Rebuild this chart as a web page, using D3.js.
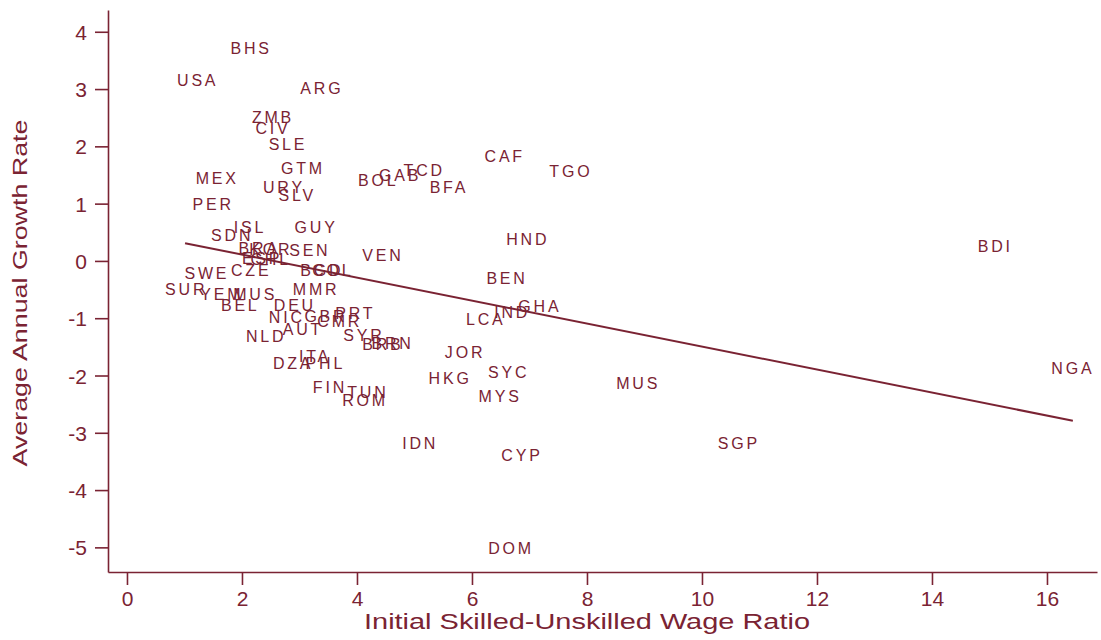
<!DOCTYPE html>
<html>
<head>
<meta charset="utf-8">
<script src="https://cdn.jsdelivr.net/npm/d3@7/dist/d3.min.js"></script>
<style>
  html, body { margin: 0; padding: 0; background: #fff; }
  svg { display: block; }
  text { font-family: "Liberation Sans", Arial, sans-serif; fill: #7a2333; }
</style>
</head>
<body>
<svg id="chart" width="1101" height="640"></svg>
<script>
// ---- data ----
const codes = ["BHS","USA","ARG","ZMB","CIV","SLE","CAF","TGO","TCD","GTM","MEX","GAB","BOL","BFA","URY","SLV","PER","ISL","GUY","SDN","HND","BDI","VEN","BRA","KOR","SEN","ESP","CHL","CZE","SWE","BGD","COL","BEN","SUR","YEM","MUS","MMR","BEL","DEU","GHA","IND","PRT","NIC","GBR","CMR","LCA","NLD","AUT","SYR","BRB","BRN","JOR","DZA","ITA","PHL","SYC","HKG","MUS","NGA","FIN","TUN","ROM","MYS","IDN","SGP","CYP","DOM"];
const wageRatio = [2.16,1.23,3.39,2.54,2.54,2.80,6.57,7.72,5.17,3.06,1.57,4.75,4.37,5.60,2.73,2.96,1.50,2.14,3.29,1.83,6.97,15.10,4.45,2.30,2.50,3.18,2.35,2.50,2.16,1.39,3.39,3.58,6.61,1.03,1.65,2.23,3.29,1.97,2.92,7.18,6.70,3.97,2.78,3.46,3.70,6.24,2.42,3.06,4.12,4.45,4.62,5.88,2.89,3.27,3.45,6.64,5.62,8.89,16.45,3.53,4.19,4.14,6.49,5.10,10.64,6.87,6.68];
const growthRate = [3.72,3.16,3.02,2.50,2.32,2.04,1.83,1.57,1.59,1.61,1.45,1.50,1.41,1.29,1.29,1.15,0.99,0.59,0.59,0.44,0.37,0.26,0.10,0.22,0.21,0.19,0.05,0.03,-0.17,-0.21,-0.16,-0.16,-0.31,-0.49,-0.58,-0.58,-0.49,-0.77,-0.77,-0.79,-0.89,-0.91,-0.99,-0.96,-1.06,-1.01,-1.31,-1.20,-1.29,-1.45,-1.43,-1.59,-1.78,-1.66,-1.78,-1.94,-2.04,-2.13,-1.88,-2.20,-2.30,-2.43,-2.36,-3.19,-3.19,-3.40,-5.01];
const fitLine = [{x: 1.01, y: 0.31}, {x: 16.45, y: -2.79}];
const xTicks = [0,2,4,6,8,10,12,14,16];
const yTicks = [4,3,2,1,0,-1,-2,-3,-4,-5];
const xTitle = "Initial Skilled-Unskilled Wage Ratio";
const yTitle = "Average Annual Growth Rate";

const color = "#7a2333";
const svg = d3.select("#chart");

const x = d3.scaleLinear().domain([-0.33, 16.87]).range([108, 1097]);
const y = d3.scaleLinear().domain([-5.43, 4.38]).range([572, 10]);

// axes (plain hyphen-minus, as in the reference)
const fmt = d => String(d);
const xAxis = d3.axisBottom(x).tickValues(xTicks).tickFormat(fmt).tickSize(13).tickSizeOuter(0).tickPadding(6);
const yAxis = d3.axisLeft(y).tickValues(yTicks).tickFormat(fmt).tickSize(13).tickSizeOuter(0).tickPadding(8);

const gx = svg.append("g").attr("transform", "translate(0,572)").call(xAxis);
const gy = svg.append("g").attr("transform", "translate(108,0)").call(yAxis);
[gx, gy].forEach(g => {
  g.selectAll("path, line").attr("stroke", color).attr("stroke-width", 1.6);
  g.selectAll("text").style("font-size", "21px").attr("fill", color);
});
gx.selectAll("text").attr("dy", "0.72em");
gy.selectAll("text").attr("dy", "0.36em");

// axis titles
svg.append("text")
  .attr("x", 587).attr("y", 629)
  .attr("text-anchor", "middle")
  .attr("textLength", 446).attr("lengthAdjust", "spacingAndGlyphs")
  .style("font-size", "22px")
  .text(xTitle);
svg.append("text")
  .attr("transform", "translate(27,293) rotate(-90)")
  .attr("text-anchor", "middle")
  .attr("textLength", 347).attr("lengthAdjust", "spacingAndGlyphs")
  .style("font-size", "20px")
  .text(yTitle);

// fitted line
svg.append("path")
  .datum(fitLine)
  .attr("fill", "none")
  .attr("stroke", color)
  .attr("stroke-width", 2)
  .attr("d", d3.line().x(d => x(d.x)).y(d => y(d.y)));

// country labels centred on points
const pts = codes.map((c, i) => ({code: c, x: wageRatio[i], y: growthRate[i]}));
svg.append("g").selectAll("text")
  .data(pts).enter().append("text")
  .attr("x", d => x(d.x))
  .attr("y", d => y(d.y))
  .attr("text-anchor", "middle")
  .attr("dy", "0.36em")
  .style("font-size", "16px")
  .style("letter-spacing", "2.8px")
  .text(d => d.code);
</script>
</body>
</html>
